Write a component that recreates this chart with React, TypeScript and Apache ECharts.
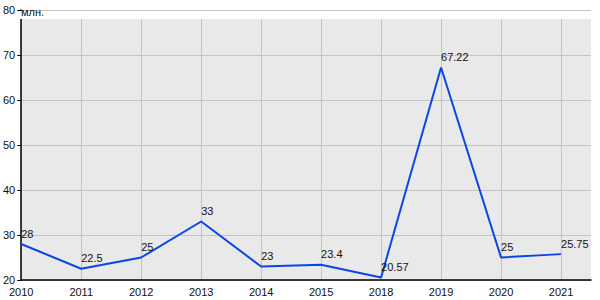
import React, { useEffect, useRef } from "react";
import * as echarts from "echarts";

const years = ["2010", "2011", "2012", "2013", "2014", "2015", "2018", "2019", "2020", "2021"];
const values = [28, 22.5, 25, 33, 23, 23.4, 20.57, 67.22, 25, 25.75];
const valueLabels = ["28", "22.5", "25", "33", "23", "23.4", "20.57", "67.22", "25", "25.75"];
const unitLabel = "млн.";

export default function App() {
  const ref = useRef<HTMLDivElement>(null);
  useEffect(() => {
    if (!ref.current) return;
    const chart = echarts.init(ref.current, null, { renderer: "svg" });
    const font = "Liberation Sans, Arial, sans-serif";
    chart.setOption({
      animation: false,
      textStyle: { fontFamily: font },
      grid: {
        left: 21,
        right: 9,
        top: 10,
        bottom: 20,
        show: true,
        backgroundColor: "#e9e9e9",
        borderWidth: 0,
      },
      xAxis: {
        type: "value",
        min: 0,
        max: 9.5,
        interval: 1,
        axisLine: { show: true, onZero: false, lineStyle: { color: "#000", width: 1.5 } },
        axisTick: { show: false },
        axisLabel: {
          color: "#111",
          fontSize: 11,
          fontFamily: font,
          margin: 6,
          formatter: (v: number) => (Number.isInteger(v) && years[v] ? years[v] : ""),
        },
        splitLine: { show: true, showMaxLine: false, lineStyle: { color: "#c4c4c4", width: 1 } },
      },
      yAxis: {
        type: "value",
        min: 20,
        max: 80,
        interval: 10,
        axisLine: { show: true, lineStyle: { color: "#000", width: 1.5 } },
        axisTick: { show: true, length: 4, lineStyle: { color: "#000" } },
        axisLabel: { color: "#111", fontSize: 11, fontFamily: font, margin: 6 },
        splitLine: { show: true, lineStyle: { color: "#c4c4c4", width: 1 } },
      },
      graphic: [
        {
          type: "rect",
          z: 100,
          shape: { x: 20, y: 11, width: 572, height: 8 },
          style: { fill: "#ffffff" },
        },
        {
          type: "text",
          z: 101,
          x: 21,
          y: 6,
          style: { text: unitLabel, fill: "#111", font: "11px " + font },
        },
      ],
      series: [
        {
          type: "line",
          data: values.map((v, i) => [i, v]),
          showSymbol: true,
          symbol: "circle",
          symbolSize: 0,
          itemStyle: { color: "#0a46e6" },
          lineStyle: { color: "#0a46e6", width: 2 },
          label: {
            show: true,
            position: "top",
            align: "left",
            distance: 5,
            color: "#111",
            fontSize: 11,
            fontFamily: font,
            formatter: (p: any) => valueLabels[p.dataIndex],
          },
        },
      ],
    });
    return () => chart.dispose();
  }, []);
  return <div ref={ref} style={{ width: 600, height: 300, position: "absolute", left: 0, top: 0 }} />;
}
